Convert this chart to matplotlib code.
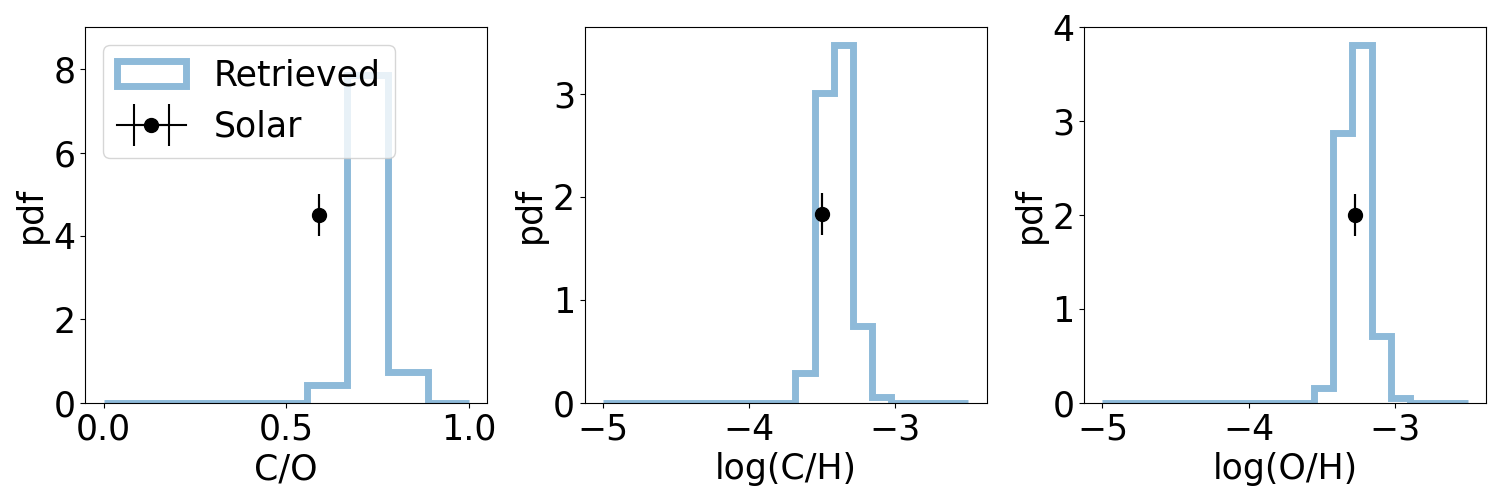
import numpy as np
import matplotlib
matplotlib.use("Agg")
import matplotlib.pyplot as plt

plt.rcParams['font.size'] = 25

# C/O histogram (9 bins over 0..1)
co_edges = np.linspace(0.0, 1.0, 10)
co_pdf = [0, 0, 0, 0, 0, 0.43, 7.86, 0.74, 0]

# log(C/H) and log(O/H) histograms (19 bins over -5..-2.5)
logh_edges = np.linspace(-5.0, -2.5, 20)
ch_pdf = [0, 0, 0, 0, 0, 0, 0, 0, 0, 0, 0.29, 3.01, 3.47, 0.75, 0.06, 0, 0, 0, 0]
oh_pdf = [0, 0, 0, 0, 0, 0, 0, 0, 0, 0, 0, 0.16, 2.88, 3.81, 0.71, 0.05, 0, 0, 0]

# solar values
solar_x = [0.59, -3.50, -3.27]
solar_y = [4.5, 1.83, 2.0]

fig, axes = plt.subplots(1, 3, figsize=(15, 5), dpi=100)

panels = [
    (co_edges, co_pdf, "C/O"),
    (logh_edges, ch_pdf, "log(C/H)"),
    (logh_edges, oh_pdf, "log(O/H)"),
]

for i, (ax, (edges, pdf, xlab)) in enumerate(zip(axes, panels)):
    ax.hist(edges[:-1], bins=edges, weights=pdf, histtype='step',
            lw=5, alpha=0.5, color='tab:blue', label="Retrieved")
    ax.errorbar(solar_x[i], solar_y[i], xerr=0, marker='o', color='k',
                ms=10, capsize=15, capthick=1.5, elinewidth=1.5, lw=1.5,
                label="Solar")
    ax.set_xlabel(xlab)
    ax.set_ylabel("pdf")

axes[0].set_ylim(0, 9)
axes[0].set_xticks([0.0, 0.5, 1.0])
axes[0].legend(loc='upper left')

plt.tight_layout(pad=0.4)
plt.savefig("out.png")
plt.close(fig)
